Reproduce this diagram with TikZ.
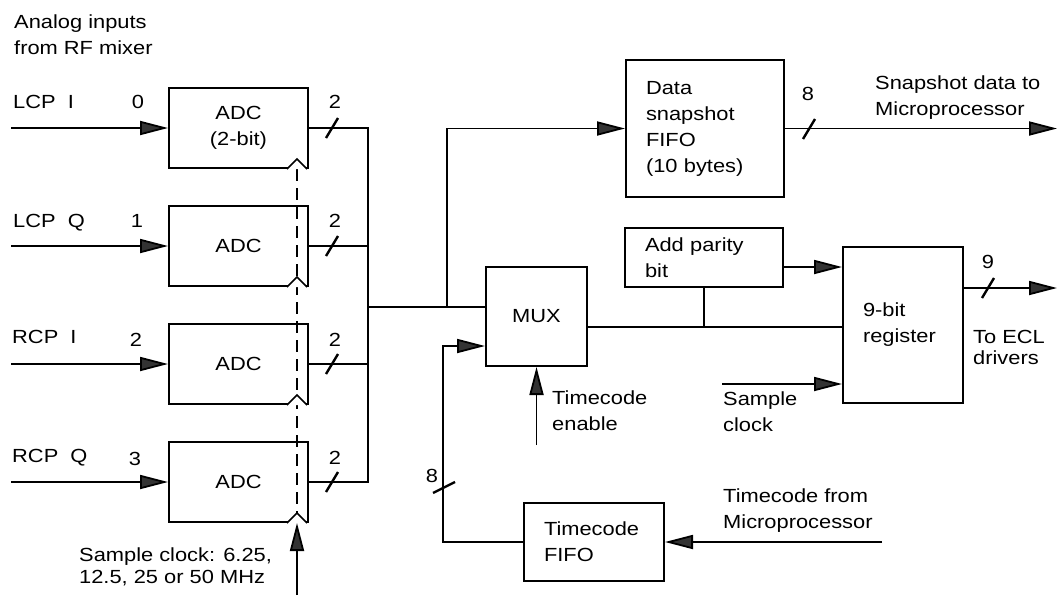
\documentclass[tikz,border=0pt]{standalone}
\usepackage{fontspec}
\setmainfont{Liberation Sans}[FakeStretch=1.15]
\usetikzlibrary{arrows.meta}

\begin{document}
\begin{tikzpicture}[x=1pt, y=-1pt, font=\fontsize{19}{26}\selectfont,
    box/.style={draw, line width=2pt, inner sep=0pt, align=center},
    adc/.style={box, minimum width=139pt, minimum height=80pt},
    tbox/.style={draw, line width=2pt, inner xsep=20pt, inner ysep=0pt, align=left},
    lbl/.style={inner sep=0pt, anchor=base west, align=left},
    num/.style={inner sep=0pt, anchor=base},
    wire/.style={line width=1.8pt},
    arr/.style={wire, -{Triangle[length=28pt, width=14pt, fill=black!80]}},
    bw/.style={line width=2.4pt},
    ck/.style={line width=1.6pt, fill=white}]

  \useasboundingbox (0,0) rectangle (1057,595);

  \node[lbl] (analog) at (14,54) {Analog inputs\\from RF mixer};

  \node[adc] (adc0) at (238.5,128) {ADC\\(2-bit)};
  \node[adc] (adc1) at (238.5,246) {ADC};
  \node[adc] (adc2) at (238.5,364) {ADC};
  \node[adc] (adc3) at (238.5,482) {ADC};

  \node[lbl] (lcpi) at (13,108) {LCP~~I};
  \node[num] (ch0) at (138,108) {0};
  \coordinate (in0) at (11,128);
  \draw[arr] (in0) -- (adc0.west);

  \node[lbl] (lcpq) at (13,227) {LCP~~Q};
  \node[num] (ch1) at (137,227) {1};
  \coordinate (in1) at (11,246);
  \draw[arr] (in1) -- (adc1.west);

  \node[lbl] (rcpi) at (12,343) {RCP~~I};
  \node[num] (ch2) at (136,346) {2};
  \coordinate (in2) at (11,364);
  \draw[arr] (in2) -- (adc2.west);

  \node[lbl] (rcpq) at (12,462) {RCP~~Q};
  \node[num] (ch3) at (135,465) {3};
  \coordinate (in3) at (11,482);
  \draw[arr] (in3) -- (adc3.west);

  \coordinate (clkin) at (297,595);
  \draw[wire, dash pattern=on 12pt off 7pt] (clkin |- adc0.south) -- (clkin |- adc3.south);
  \draw[ck] (clkin |- adc0.south) ++(-10,0) -- ++(10,-10) -- ++(10,10);
  \draw[ck] (clkin |- adc1.south) ++(-10,0) -- ++(10,-10) -- ++(10,10);
  \draw[ck] (clkin |- adc2.south) ++(-10,0) -- ++(10,-10) -- ++(10,10);
  \draw[ck] (clkin |- adc3.south) ++(-10,0) -- ++(10,-10) -- ++(10,10);
  \draw[arr] (clkin) -- (clkin |- adc3.south);
  \node[lbl, font=\fontsize{19}{22}\selectfont] (adcclk) at (79,583) {Sample clock: 6.25,\\12.5, 25 or 50 MHz};

  \coordinate (bus) at (368,128);
  \draw[wire] (adc0.east) -- (bus) -- (bus |- adc3.east) -- (adc3.east);
  \draw[wire] (adc1.east) -- (adc1.east -| bus);
  \draw[wire] (adc2.east) -- (adc2.east -| bus);
  \draw[bw] (332,128) ++(-6,10) -- ++(12,-20);
  \draw[bw] (332,246) ++(-6,10) -- ++(12,-20);
  \draw[bw] (332,364) ++(-6,10) -- ++(12,-20);
  \draw[bw] (332,482) ++(-6,10) -- ++(12,-20);
  \node[num] (w0) at (335,108) {2};
  \node[num] (w1) at (335,227) {2};
  \node[num] (w2) at (335,346) {2};
  \node[num] (w3) at (335,464) {2};

  \node[box, minimum width=101pt, minimum height=99pt] (mux) at (536.5,316.5) {MUX};
  \coordinate (muxa) at ([yshift=9.5pt]mux.west);
  \coordinate (muxb) at ([yshift=-29.5pt]mux.west);
  \coordinate (muxo) at ([yshift=-10.5pt]mux.east);
  \draw[wire] (bus |- muxa) -- (muxa);

  \node[tbox, text width=118pt, minimum height=137pt] (fifo) at (705,128.5) {Data\\snapshot\\FIFO\\(10 bytes)};
  \coordinate (tap) at (447,307);
  \draw[arr] (tap) |- (fifo.west);
  \coordinate (snap) at (1057,129);
  \draw[arr] (fifo.east) -- (fifo.east -| snap);
  \draw[bw] (809,129) ++(-6,10) -- ++(12,-20);
  \node[num] (w8) at (808,100) {8};
  \node[lbl] (snaptxt) at (875,115) {Snapshot data to\\Microprocessor};

  \node[tbox, text width=118pt, minimum height=59pt] (parity) at (704,257.5) {Add parity\\bit};
  \node[tbox, text width=80pt, minimum height=156pt] (reg) at (903,325) {9-bit\\register};
  \draw[wire] (muxo) -- (muxo -| reg.west);
  \draw[wire] (parity.south) -- (parity.south |- muxo);
  \draw[arr] ([yshift=-9.5pt]parity.east) -- ([yshift=-9.5pt]parity.east -| reg.west);

  \coordinate (sclk) at (722,384);
  \draw[arr] (sclk) -- (sclk -| reg.west);
  \node[lbl] (sclktxt) at (723,431) {Sample\\clock};

  \coordinate (ecl) at (1057,288);
  \draw[arr] (reg.east |- ecl) -- (ecl);
  \draw[bw] (988,288) ++(-6,10) -- ++(12,-20);
  \node[num] (w9) at (988,268) {9};
  \node[lbl, font=\fontsize{19}{21}\selectfont] (ecltxt) at (973,364) {To ECL\\drivers};

  \coordinate (enin) at (536.5,445);
  \draw[arr] (enin) -- (mux.south);
  \node[lbl] (entxt) at (552,430) {Timecode\\enable};

  \node[tbox, text width=100pt, minimum height=78pt] (tfifo) at (594,542) {Timecode\\FIFO};
  \draw[arr] (tfifo.west) -- ++(-80,0) |- (muxb);
  \draw[bw] (444,487) ++(-11,6) -- ++(22,-11);
  \node[num] (w8b) at (432,482) {8};
  \coordinate (tcin) at (882,542);
  \draw[arr] (tcin) -- (tfifo.east);
  \node[lbl] (tctxt) at (723,528) {Timecode from\\Microprocessor};
\end{tikzpicture}
\end{document}
